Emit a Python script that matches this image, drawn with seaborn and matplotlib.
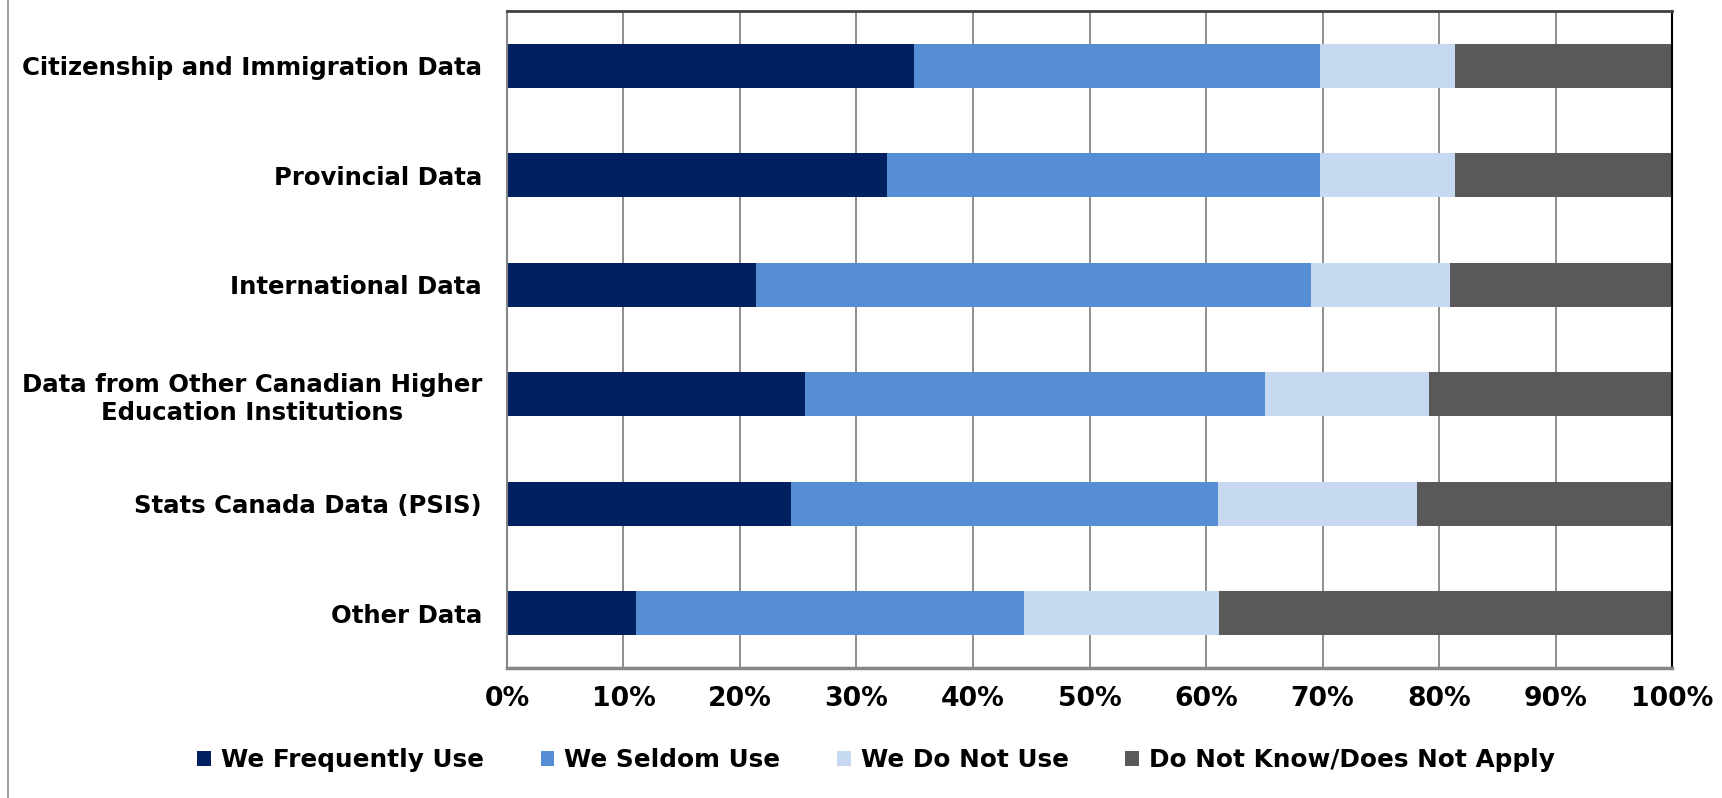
import numpy as np
import pandas as pd
import seaborn as sns
import matplotlib.pyplot as plt
from matplotlib.patches import Patch
from matplotlib.lines import Line2D
from matplotlib.ticker import PercentFormatter

categories = ['Citizenship and Immigration Data',
              'Provincial Data',
              'International Data',
              'Data from Other Canadian Higher\nEducation Institutions',
              'Stats Canada Data (PSIS)',
              'Other Data']
series = ['We Frequently Use', 'We Seldom Use', 'We Do Not Use', 'Do Not Know/Does Not Apply']
frequently = [34.9, 32.6, 21.4, 25.6, 24.4, 11.1]
seldom = [34.9, 37.2, 47.6, 39.5, 36.6, 33.3]
not_use = [11.6, 11.6, 11.9, 14.0, 17.1, 16.7]
dont_know = [18.6, 18.6, 19.0, 20.9, 22.0, 38.9]
colors = ['#002060', '#558ED5', '#C6D9F1', '#595959']

sns.set_style('white')
plt.rcParams['font.family'] = ['DejaVu Sans']
plt.rcParams['font.weight'] = 'bold'
plt.rcParams['text.color'] = 'black'
plt.rcParams['xtick.color'] = 'black'
plt.rcParams['ytick.color'] = 'black'

df = pd.DataFrame({'category': categories, series[0]: frequently, series[1]: seldom,
                   series[2]: not_use, series[3]: dont_know})
cum = df[series].cumsum(axis=1)

fig = plt.figure(figsize=(17.22, 7.98), dpi=100)
ax = fig.add_axes([0.2944, 0.1629, 0.6766, 0.8233])

# stacked bars: draw cumulative totals from back to front
for s, c in reversed(list(zip(series, colors))):
    sns.barplot(x=cum[s], y=df['category'], orient='h', color=c, width=0.4,
                saturation=1, ax=ax, linewidth=0)

ax.set_xlim(0, 100)
ax.set_xticks(np.arange(0, 101, 10))
ax.xaxis.set_major_formatter(PercentFormatter(decimals=0))
ax.set_axisbelow(True)
ax.xaxis.grid(True, color='#868686', linewidth=1.3)
ax.set_xlabel('')
ax.set_ylabel('')
ax.tick_params(axis='y', length=0, pad=18, labelsize=17.6, labelcolor='black')
ax.tick_params(axis='x', length=0, pad=13, labelsize=19.2, labelcolor='black')
for lab in ax.get_yticklabels():
    lab.set_multialignment('center')
    lab.set_fontweight('bold')
for lab in ax.get_xticklabels():
    lab.set_fontweight('bold')

ax.spines['top'].set_color('#404040')
ax.spines['top'].set_linewidth(2)
ax.spines['right'].set_color('black')
ax.spines['right'].set_linewidth(1.5)
ax.spines['left'].set_color('#868686')
ax.spines['left'].set_linewidth(1.5)
ax.spines['bottom'].set_color('#868686')
ax.spines['bottom'].set_linewidth(2.5)

handles = [Patch(facecolor=c, edgecolor='none') for c in colors]
fig.legend(handles, series, loc='center', bbox_to_anchor=(0.5087, 1 - 760 / 798), ncol=4,
           frameon=False, handlelength=0.55, handleheight=0.55, handletextpad=0.4,
           columnspacing=2.3, prop={'size': 17.8, 'weight': 'bold'}, labelcolor='black')

fig.add_artist(Line2D([0.0046, 0.0046], [0, 1], transform=fig.transFigure,
                      color='#a0a0a0', linewidth=1.5))

fig.savefig('out.png', dpi=100)
